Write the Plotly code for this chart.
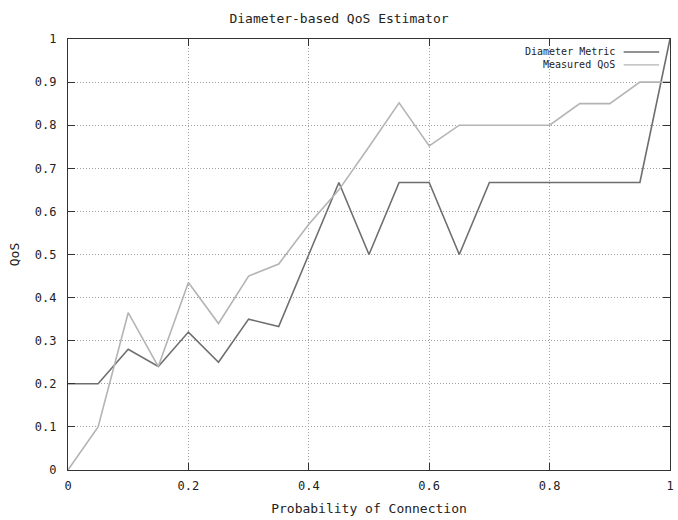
import plotly.graph_objects as go

# Probability of connection sampled in steps of 0.05
prob = [0.0, 0.05, 0.1, 0.15, 0.2, 0.25, 0.3, 0.35, 0.4, 0.45, 0.5,
        0.55, 0.6, 0.65, 0.7, 0.75, 0.8, 0.85, 0.9, 0.95, 1.0]

diameter_metric = [0.2, 0.2, 0.28, 0.24, 0.32, 0.25, 0.35, 0.333, 0.5, 0.667, 0.5,
                   0.667, 0.667, 0.5, 0.667, 0.667, 0.667, 0.667, 0.667, 0.667, 1.0]

measured_qos = [0.0, 0.1, 0.365, 0.24, 0.435, 0.34, 0.45, 0.478, 0.57, 0.65, 0.75,
                0.852, 0.752, 0.8, 0.8, 0.8, 0.8, 0.85, 0.85, 0.9, 0.9]

series_names = ["Diameter Metric", "Measured QoS"]
series_colors = ["#6e6e6e", "#b4b4b4"]

x_ticks = [0, 0.2, 0.4, 0.6, 0.8, 1]
x_tick_labels = ["0", "0.2", "0.4", "0.6", "0.8", "1"]
y_ticks = [0, 0.1, 0.2, 0.3, 0.4, 0.5, 0.6, 0.7, 0.8, 0.9, 1]
y_tick_labels = ["0", "0.1", "0.2", "0.3", "0.4", "0.5", "0.6", "0.7", "0.8", "0.9", "1"]

FONT = "DejaVu Sans Mono"

fig = go.Figure()
for name, ys, col in zip(series_names, [diameter_metric, measured_qos], series_colors):
    fig.add_trace(go.Scatter(x=prob, y=ys, mode="lines", name=name,
                             line=dict(color=col, width=1.6), showlegend=False))

axis_common = dict(
    showline=True, linecolor="#333", linewidth=1.4, mirror="ticks",
    ticks="inside", ticklen=7, tickcolor="#333", tickwidth=1.2,
    showgrid=True, gridcolor="#a0a0a0", griddash="1px,2px", gridwidth=1,
    zeroline=False, automargin=False,
    tickfont=dict(family=FONT, size=12, color="#222"),
)

fig.update_xaxes(range=[0, 1], tickvals=x_ticks, ticktext=x_tick_labels,
                 ticklabelstandoff=4,
                 title=dict(text="Probability of Connection",
                            font=dict(family=FONT, size=13, color="#222"), standoff=12),
                 **axis_common)
fig.update_yaxes(range=[0, 1], tickvals=y_ticks, ticktext=y_tick_labels,
                 ticklabelstandoff=8,
                 title=dict(text="QoS", font=dict(family=FONT, size=13, color="#222"),
                            standoff=12),
                 **axis_common)

# Key in the upper right corner: label text followed by a line sample
key_rows = [0.97, 0.94]
for name, col, yk in zip(series_names, series_colors, key_rows):
    fig.add_annotation(x=0.912, y=yk, xref="paper", yref="paper", text=name,
                       showarrow=False, xanchor="right", yanchor="middle",
                       font=dict(family=FONT, size=10, color="#222"))
    fig.add_shape(type="line", xref="paper", yref="paper",
                  x0=0.923, x1=0.982, y0=yk, y1=yk,
                  line=dict(color=col, width=1.4))

fig.update_layout(
    width=678, height=520,
    margin=dict(l=68, r=8, t=39, b=50),
    paper_bgcolor="white", plot_bgcolor="white",
    title=dict(text="Diameter-based QoS Estimator", x=0.5, xanchor="center",
               y=0.965, yanchor="middle",
               font=dict(family=FONT, size=13, color="#222")),
)

fig.write_html("out.html")
